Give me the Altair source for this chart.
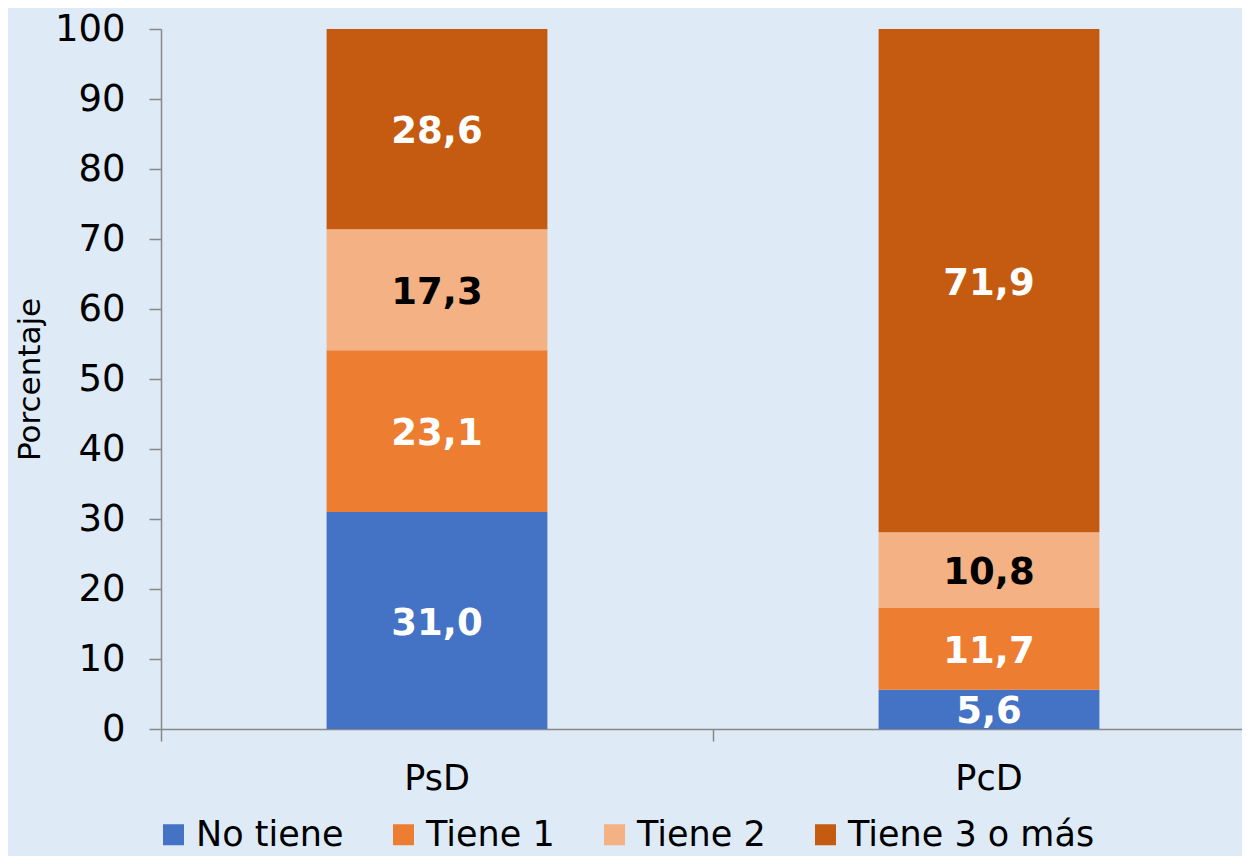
import altair as alt
import pandas as pd

categorias = ["PsD", "PcD"]
grupos = ["No tiene", "Tiene 1", "Tiene 2", "Tiene 3 o más"]
psd = [31.0, 23.1, 17.3, 28.6]
pcd = [5.6, 11.7, 10.8, 71.9]
colores = ["#4472C4", "#ED7D31", "#F4B183", "#C55A11"]
y_ticks = list(range(0, 101, 10))

rows = []
for cat, vals in zip(categorias, [psd, pcd]):
    for i, (g, v) in enumerate(zip(grupos, vals)):
        rows.append({"cat": cat, "grupo": g, "idx": i, "value": v})
df = pd.DataFrame(rows)

FONT = "DejaVu Sans"
AXC = "#898989"

x_enc = alt.X(
    "cat:N",
    sort=categorias,
    scale=alt.Scale(range=[0, 1104], paddingInner=0.6, paddingOuter=0.3),
    axis=alt.Axis(
        title=None, labelAngle=0, labelFontSize=35, labelColor="black",
        labelFont=FONT, labelPadding=20, bandPosition=-0.75,
        tickSize=12, tickColor=AXC, tickWidth=1.5, domainColor=AXC,
        domainWidth=1.5,
    ),
)

base = alt.Chart(df)

bars = base.mark_bar().encode(
    x=x_enc,
    y=alt.Y(
        "value:Q",
        stack="zero",
        scale=alt.Scale(domain=[0, 100], nice=False),
        axis=alt.Axis(
            title="Porcentaje", values=y_ticks, grid=False,
            labelFontSize=37, labelColor="black", labelFont=FONT,
            labelPadding=24, tickSize=12, tickColor=AXC, tickWidth=1.5,
            domainColor=AXC, domainWidth=1.5, titleFontSize=31,
            titleFontWeight="normal", titleFont=FONT, titleColor="black",
            titlePadding=8,
        ),
    ),
    color=alt.Color(
        "grupo:N",
        sort=grupos,
        scale=alt.Scale(domain=grupos, range=colores),
        legend=alt.Legend(
            title=None, orient="none", direction="horizontal",
            legendX=-5, legendY=788, symbolType="square", symbolSize=441,
            symbolStrokeWidth=0, labelFontSize=35, labelFont=FONT,
            labelColor="black", labelOffset=5, columnPadding=42,
            labelLimit=500, padding=0,
        ),
    ),
    order=alt.Order("idx:Q"),
)

labels = (
    base.transform_window(
        cum="sum(value)", groupby=["cat"], sort=[alt.SortField("idx")],
        frame=[None, 0],
    )
    .transform_calculate(
        mid="datum.cum - datum.value / 2",
        txt="replace(format(datum.value, '.1f'), '.', ',')",
    )
    .mark_text(font=FONT, fontSize=37, fontWeight="bold", baseline="middle", dy=3)
    .encode(
        x=alt.X("cat:N", sort=categorias),
        y=alt.Y("mid:Q"),
        text="txt:N",
        color=alt.condition(
            alt.datum.grupo == "Tiene 2", alt.value("black"), alt.value("white")
        ),
    )
)

chart = (
    alt.layer(bars, labels)
    .properties(
        width=1081,
        height=700,
        autosize=alt.AutoSizeParams(type="none"),
        padding={"left": 153, "top": 21, "right": 0, "bottom": 127},
        background="#DEEAF6",
    )
    .configure_view(stroke=None)
)

chart.save("out.html", embed_options={"renderer": "svg", "actions": False})
